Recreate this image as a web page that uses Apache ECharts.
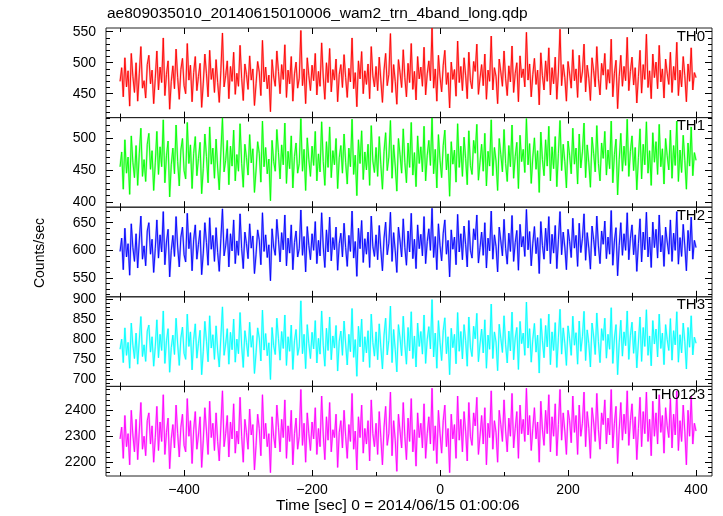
<!DOCTYPE html>
<html><head><meta charset="utf-8">
<script src="https://cdn.jsdelivr.net/npm/echarts@6/dist/echarts.min.js"></script>
<style>html,body{margin:0;padding:0;background:#fff}#c{width:723px;height:516px}</style>
</head><body><div id="c"></div>
<script>
// time sampling (seconds relative to 2014/06/15 01:00:06)
const tStart = -500, tStep = 2.5;

const th0 = [
470,492,445,508,461,487,430,515,478,452,500,438,482,526,459,471,443,497,512,466,
488,434,475,519,456,493,468,540,447,481,503,425,470,495,458,522,476,441,489,507,
463,450,531,472,496,437,484,510,455,478,499,428,467,514,482,445,520,473,491,452,
505,468,436,487,548,461,479,503,442,494,470,517,449,483,462,528,475,439,498,481,
457,511,472,490,431,466,502,485,447,536,469,493,458,480,421,505,477,462,519,486,
450,497,473,529,444,488,466,510,438,482,501,459,475,552,463,490,434,508,479,455,
496,471,515,448,486,462,532,477,441,500,468,523,453,489,472,506,437,481,497,460,
513,476,444,491,469,540,458,484,429,503,474,518,450,487,465,498,442,526,479,461,
494,455,509,472,436,488,515,463,481,547,452,497,470,433,505,484,460,521,476,445,
499,468,531,457,486,440,510,474,493,462,525,448,482,503,471,556,459,490,438,512,
477,453,496,520,465,484,427,501,473,489,446,535,468,494,455,508,480,442,517,471,
458,502,486,530,449,475,497,463,514,441,488,470,543,456,492,478,434,506,485,462,
519,474,447,495,469,527,452,483,500,437,511,476,490,461,549,472,498,445,481,507,
465,488,432,516,479,456,503,470,524,448,492,466,509,441,485,554,463,497,476,438,
502,482,459,521,471,490,444,512,468,485,530,453,496,475,439,508,487,461,526,474,
448,499,480,515,457,489,467,538,445,483,504,426,478,512,462,494,471,541,455,486,
509,464,492,435,478,520,451,497,473,546,460,487,442,514,476,501,458,528,469,490,
443,506,483,465,517,452,494,472,533,447,488,461,510,479,437,498,470,524,456,484,
476];

const th1 = [
455,478,420,497,445,470,412,503,462,438,488,426,475,515,440,466,432,490,507,451,
480,418,461,510,443,486,455,528,430,472,495,408,458,484,444,520,463,425,481,499,
449,436,524,460,489,421,476,502,441,468,493,413,452,506,471,430,517,459,484,437,
498,453,419,478,531,447,465,496,427,487,456,512,433,474,448,522,460,423,490,469,
442,505,461,483,415,450,494,476,431,526,455,485,444,467,402,496,463,448,513,477,
436,489,458,523,429,479,452,503,422,471,492,445,460,530,448,482,418,500,466,440,
487,457,510,433,475,447,525,463,426,494,454,517,438,480,458,499,421,469,488,445,
506,462,428,484,455,529,443,473,410,497,460,511,435,478,450,490,426,519,464,446,
485,440,502,458,420,479,508,449,470,527,437,489,456,417,499,474,445,514,462,430,
492,454,524,442,477,424,503,460,486,447,518,433,473,496,457,531,444,482,422,505,
465,438,488,512,450,475,409,494,459,481,431,522,454,487,440,501,468,427,511,457,
443,496,476,521,434,462,490,448,507,425,479,456,528,441,485,464,418,499,474,447,
513,460,432,488,455,520,437,471,493,421,504,463,482,446,530,458,491,429,470,500,
451,480,415,509,466,441,497,456,518,433,486,452,502,424,476,527,449,490,463,422,
495,473,444,515,459,484,428,506,453,478,523,438,489,461,423,501,476,447,519,460,
433,492,468,510,442,481,452,526,430,474,498,411,466,507,448,487,457,529,440,479,
503,449,485,419,469,514,436,490,458,525,445,480,426,508,462,494,443,521,455,483,
428,499,472,450,512,437,488,457,526,432,481,446,504,465,420,492,456,517,441,477,
465];

const th2 = [
598,622,565,640,588,612,555,648,605,580,630,568,617,662,584,608,572,635,650,593,
620,560,603,655,586,628,597,670,574,615,638,552,600,627,589,661,606,570,624,642,
592,579,667,603,632,563,619,646,584,611,636,556,595,650,614,573,659,602,627,580,
641,596,562,621,675,590,608,639,570,630,599,655,576,617,591,666,603,567,633,612,
585,648,604,626,558,593,637,619,574,668,598,628,587,610,545,639,606,591,656,620,
579,632,601,664,572,622,595,646,565,614,635,588,603,673,591,625,561,643,609,583,
630,600,652,576,618,590,668,606,569,637,597,660,581,623,601,642,564,612,631,588,
649,605,571,627,598,671,586,616,553,640,603,654,578,621,593,633,569,662,607,589,
628,583,645,601,563,622,651,592,613,669,580,632,599,560,642,617,588,657,605,573,
635,597,667,585,620,567,646,603,629,590,661,576,616,639,600,676,587,625,565,648,
608,581,631,655,593,618,552,637,602,624,574,665,597,630,583,644,611,570,654,600,
586,639,619,664,577,605,633,591,650,568,622,599,671,584,628,607,561,642,617,590,
656,603,575,631,598,663,580,614,636,564,647,606,625,589,674,601,634,572,613,643,
594,623,558,652,609,584,640,599,661,576,629,595,645,567,619,670,592,633,606,565,
638,616,587,658,604,627,571,649,596,621,666,582,632,604,566,644,620,590,662,608,
576,635,611,653,585,624,593,672,573,617,641,554,609,650,591,630,600,668,583,622,
646,592,628,562,612,657,579,633,601,669,588,624,569,651,605,638,586,664,597,627,
571,642,615,593,655,580,631,600,670,575,623,589,647,608,563,636,599,660,584,618,
605];

const th3 = [
775,800,742,828,760,792,728,840,785,752,815,738,798,856,757,786,745,820,835,768,
806,733,781,848,754,812,772,870,740,796,826,718,779,810,762,852,788,735,803,830,
765,750,862,782,818,724,799,838,753,790,822,712,770,844,795,744,858,778,811,750,
833,771,731,805,880,760,788,826,738,817,774,850,743,800,764,866,783,730,821,792,
757,842,780,809,715,766,828,803,746,872,773,814,759,791,700,829,784,762,852,801,
748,819,777,860,735,806,770,835,725,796,824,760,781,895,764,812,727,836,789,752,
817,776,846,741,802,763,870,785,733,827,772,855,749,808,778,834,721,795,820,760,
845,788,736,812,769,876,755,799,708,832,781,850,744,806,766,821,730,862,792,758,
818,749,838,780,726,810,852,761,797,882,742,824,774,719,836,803,759,857,786,738,
829,771,868,752,808,731,840,782,819,763,860,740,800,831,776,898,756,815,728,846,
792,747,821,853,764,806,712,827,779,812,739,866,770,819,751,836,797,733,855,780,
757,832,801,864,744,788,825,766,848,728,810,775,887,752,818,793,722,837,802,767,
858,786,741,820,771,867,749,803,829,725,844,789,815,760,892,778,826,743,800,839,
768,810,716,851,796,754,834,781,862,737,818,772,841,730,805,874,763,828,790,735,
833,801,760,857,785,816,738,845,770,806,869,747,823,789,731,840,808,762,865,794,
742,826,797,852,753,812,775,878,740,803,836,712,791,847,758,818,784,870,750,810,
842,765,820,729,793,855,745,829,782,873,760,808,734,846,788,825,756,862,777,815,
737,836,799,772,851,748,821,786,868,743,811,766,840,794,726,829,780,858,761,805,
790];

const th0123 = [
2290,2335,2215,2380,2260,2310,2190,2400,2305,2240,2365,2210,2320,2430,2250,2300,2225,2360,2390,2270,
2340,2200,2295,2415,2245,2355,2280,2460,2230,2315,2370,2175,2290,2345,2255,2420,2310,2220,2335,2385,
2265,2240,2445,2300,2360,2195,2325,2395,2250,2305,2375,2180,2285,2410,2320,2230,2435,2295,2350,2245,
2390,2280,2205,2340,2475,2260,2310,2380,2220,2355,2290,2425,2235,2320,2270,2450,2300,2200,2365,2315,
2250,2405,2305,2345,2170,2265,2385,2330,2225,2460,2290,2350,2260,2310,2160,2375,2300,2255,2420,2335,
2240,2365,2295,2440,2215,2340,2280,2400,2190,2310,2370,2250,2300,2480,2265,2350,2200,2390,2310,2245,
2355,2290,2410,2230,2330,2260,2455,2305,2210,2375,2285,2430,2240,2325,2295,2385,2180,2315,2360,2255,
2400,2300,2215,2345,2280,2465,2250,2320,2170,2375,2295,2420,2235,2330,2270,2360,2205,2440,2310,2260,
2350,2230,2395,2295,2190,2335,2415,2265,2310,2470,2225,2360,2285,2165,2385,2320,2255,2430,2300,2210,
2370,2280,2445,2240,2325,2185,2390,2295,2350,2255,2425,2215,2310,2375,2270,2485,2245,2340,2195,2400,
2310,2235,2360,2420,2260,2330,2160,2385,2290,2345,2215,2455,2285,2365,2240,2395,2320,2205,2430,2300,
2265,2390,2340,2450,2230,2300,2380,2270,2410,2190,2350,2295,2475,2250,2360,2315,2200,2400,2345,2280,
2440,2320,2240,2370,2300,2465,2255,2330,2395,2215,2420,2310,2365,2280,2485,2305,2380,2245,2330,2410,
2290,2355,2200,2435,2325,2265,2400,2310,2460,2240,2375,2300,2425,2225,2345,2480,2285,2390,2320,2230,
2400,2360,2275,2455,2315,2380,2230,2420,2300,2350,2470,2260,2395,2330,2215,2410,2355,2280,2465,2325,
2250,2390,2345,2440,2270,2370,2305,2480,2255,2350,2415,2195,2325,2430,2285,2385,2310,2475,2265,2360,
2425,2290,2375,2210,2330,2450,2260,2395,2310,2470,2280,2365,2225,2435,2300,2390,2270,2460,2315,2380,
2235,2410,2340,2295,2445,2255,2385,2305,2475,2245,2360,2280,2420,2320,2190,2400,2300,2455,2270,2350,
2320];

const panelNames = ['TH0', 'TH1', 'TH2', 'TH3', 'TH0123'];
const panelData = [th0, th1, th2, th3, th0123];
const panelColors = ['#ff0000', '#00ff00', '#0000ff', '#00ffff', '#ff00ff'];
const yRanges = [[411.5, 556], [392, 531.5], [516, 678], [683, 905], [2147, 2492]];
const yLabels = [[450, 500, 550], [400, 450, 500], [550, 600, 650], [700, 750, 800, 850, 900], [2200, 2300, 2400]];
const yMinorStep = [10, 10, 10, 10, 20];
const xRange = [-522, 425];
const xLabels = [-400, -200, 0, 200, 400];
const xMinor = [-500, -300, -100, 100, 300];
const titleText = 'ae809035010_20140615010006_wam2_trn_4band_long.qdp';
const xName = 'Time [sec] 0 = 2014/06/15 01:00:06';
const yName = 'Counts/sec';

const FONT = '"Liberation Sans", Arial, Helvetica, sans-serif';
const L = 106, W = 606, T0 = 28, H = 89.6;

function minorTicks(r, step) {
  const out = [];
  for (let v = Math.ceil(r[0] / step) * step; v <= r[1]; v += step) out.push(v);
  return out;
}

const grids = [], xAxes = [], yAxes = [], series = [], graphics = [];
panelNames.forEach((name, i) => {
  const top = T0 + i * H;
  grids.push({ left: L, top: top, width: W, height: H, show: true, borderColor: '#222', borderWidth: 1, backgroundColor: 'transparent' });
  const baseX = { gridIndex: i, type: 'value', min: xRange[0], max: xRange[1], splitLine: { show: false },
    axisLine: { show: false, onZero: false } };
  xAxes.push(Object.assign({}, baseX, { position: 'bottom',
    axisTick: { show: true, inside: true, length: 6, customValues: xLabels, lineStyle: { color: '#000' } },
    axisLabel: { show: i === 4, customValues: xLabels, color: '#000', fontSize: 14, fontFamily: FONT, margin: 7,
      formatter: v => (v < 0 ? '\u2212' + Math.abs(v) : String(v)) } }));
  xAxes.push(Object.assign({}, baseX, { position: 'bottom',
    axisTick: { show: true, inside: true, length: 4, customValues: xMinor, lineStyle: { color: '#000' } },
    axisLabel: { show: false } }));
  xAxes.push(Object.assign({}, baseX, { position: 'top',
    axisTick: { show: true, inside: true, length: 6, customValues: xLabels, lineStyle: { color: '#000' } },
    axisLabel: { show: false } }));
  xAxes.push(Object.assign({}, baseX, { position: 'top',
    axisTick: { show: true, inside: true, length: 4, customValues: xMinor, lineStyle: { color: '#000' } },
    axisLabel: { show: false } }));

  const r = yRanges[i];
  const minors = minorTicks(r, yMinorStep[i]);
  const baseY = { gridIndex: i, type: 'value', min: r[0], max: r[1], splitLine: { show: false },
    axisLine: { show: false, onZero: false } };
  ['left', 'right'].forEach(pos => {
    yAxes.push(Object.assign({}, baseY, { position: pos,
      axisTick: { show: true, inside: true, length: 7, customValues: yLabels[i], lineStyle: { color: '#000' } },
      axisLabel: { show: pos === 'left', customValues: yLabels[i], color: '#000', fontSize: 14, fontFamily: FONT, margin: 10,
        formatter: v => String(v) } }));
    yAxes.push(Object.assign({}, baseY, { position: pos,
      axisTick: { show: true, inside: true, length: 4, customValues: minors, lineStyle: { color: '#000' } },
      axisLabel: { show: false } }));
  });

  const pts = panelData[i].map((v, k) => [tStart + k * tStep, v]);
  // pale halo underneath, imitating the light error-bar band of the original
  series.push({
    type: 'line', name: name + ' band', xAxisIndex: i * 4, yAxisIndex: i * 4,
    data: pts, showSymbol: false, symbol: 'none', clip: true, z: 1,
    lineStyle: { color: panelColors[i], width: 2, opacity: 0.35 },
    silent: true, animation: false
  });
  series.push({
    type: 'line', name: name, xAxisIndex: i * 4, yAxisIndex: i * 4,
    data: pts, showSymbol: false, symbol: 'none', clip: true, z: 2,
    lineStyle: { color: panelColors[i], width: 0.9 }, itemStyle: { color: panelColors[i] },
    silent: true, animation: false
  });

  graphics.push({ type: 'text', right: 723 - 705, top: top + 1, z: 100,
    style: { text: name, font: '15px ' + FONT, fill: '#000', textAlign: 'right' } });
});

graphics.push({ type: 'text', left: 107, top: 6, style: { text: titleText, font: '15.5px ' + FONT, fill: '#000' } });
graphics.push({ type: 'text', left: 276, top: 498, style: { text: xName, font: '15.5px ' + FONT, fill: '#000' } });
graphics.push({ type: 'text', left: 33, top: 218, rotation: Math.PI / 2,
  style: { text: yName, font: '14px ' + FONT, fill: '#000' } });

const chart = echarts.init(document.getElementById('c'), null, { renderer: 'canvas' });
chart.setOption({
  animation: false,
  backgroundColor: '#fff',
  grid: grids, xAxis: xAxes, yAxis: yAxes, series: series, graphic: graphics
});
</script></body></html>
